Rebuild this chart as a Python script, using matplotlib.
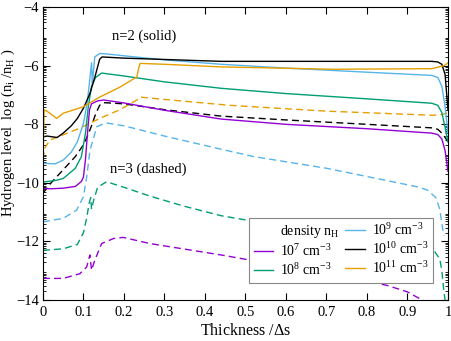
import numpy as np
import matplotlib.pyplot as plt
from matplotlib.lines import Line2D

plt.rcParams['font.family'] = 'Liberation Serif'
plt.rcParams['mathtext.fontset'] = 'custom'
plt.rcParams['mathtext.rm'] = 'Liberation Serif'
plt.rcParams['mathtext.it'] = 'Liberation Serif:italic'
plt.rcParams['font.size'] = 10.5

#-----------------DATA----------------------------------------------#
# n=2 (solid)
x_p7 = [0, 0.02, 0.05, 0.08, 0.095, 0.1, 0.105, 0.11, 0.115, 0.12, 0.135, 0.15, 0.2, 0.3, 0.44, 0.6, 0.8, 0.96, 0.975, 0.985, 0.993, 1.0]
y_p7 = [-10.19, -10.2, -10.18, -10.12, -9.95, -9.8, -9.2, -8.3, -7.5, -7.3, -7.2, -7.17, -7.27, -7.52, -7.82, -8.0, -8.15, -8.3, -8.35, -8.5, -8.9, -9.6]

x_p8 = [0, 0.03, 0.05, 0.08, 0.095, 0.105, 0.112, 0.12, 0.13, 0.145, 0.2, 0.3, 0.44, 0.6, 0.8, 0.96, 0.975, 0.985, 0.993, 1.0]
y_p8 = [-9.97, -9.92, -9.85, -9.5, -9.1, -8.3, -7.4, -6.7, -6.4, -6.25, -6.35, -6.55, -6.77, -6.95, -7.13, -7.28, -7.35, -7.6, -8.1, -8.6]

x_p9 = [0, 0.03, 0.05, 0.07, 0.085, 0.1, 0.11, 0.117, 0.12, 0.122, 0.124, 0.128, 0.14, 0.16, 0.2, 0.3, 0.44, 0.6, 0.8, 0.96, 0.975, 0.985, 0.993, 1.0]
y_p9 = [-9.33, -9.35, -9.22, -8.95, -8.6, -7.97, -7.2, -6.3, -5.9, -6.6, -6.3, -5.7, -5.58, -5.6, -5.66, -5.8, -5.95, -6.08, -6.22, -6.33, -6.4, -6.7, -7.4, -8.3]

x_p10 = [0, 0.01, 0.02, 0.035, 0.05, 0.07, 0.085, 0.1, 0.116, 0.128, 0.14, 0.146, 0.2, 0.44, 0.7, 0.96, 0.975, 0.985, 0.993, 1.0]
y_p10 = [-8.43, -8.4, -8.42, -8.45, -8.3, -8.05, -7.8, -7.45, -6.95, -6.4, -5.78, -5.7, -5.74, -5.85, -5.85, -5.85, -5.87, -5.95, -6.3, -7.5]

x_p11 = [0, 0.003, 0.015, 0.034, 0.05, 0.1, 0.14, 0.19, 0.232, 0.236, 0.24, 0.3, 0.44, 0.72, 0.96, 0.99, 1.0]
y_p11 = [-9.4, -7.5, -7.6, -7.8, -7.62, -7.4, -7.07, -6.73, -6.38, -6.1, -5.92, -5.95, -6.04, -6.12, -6.1, -6.0, -5.9]

# n=3 (dashed)
x_d7 = [0, 0.05, 0.091, 0.108, 0.116, 0.12, 0.128, 0.145, 0.174, 0.198, 0.264, 0.44, 0.6, 0.75, 0.85, 0.9, 0.93, 0.95]
y_d7 = [-13.26, -13.26, -13.1, -12.87, -12.46, -12.98, -12.64, -12.07, -11.9, -11.86, -12.07, -12.46, -12.85, -13.2, -13.5, -13.72, -13.95, -14.2]

x_d8 = [0, 0.05, 0.085, 0.1, 0.108, 0.114, 0.118, 0.12, 0.125, 0.135, 0.157, 0.2, 0.264, 0.35, 0.44, 0.6, 0.8, 0.94, 0.965, 0.98, 0.985, 0.99, 0.995]
y_d8 = [-12.3, -12.25, -12.1, -11.7, -11.2, -10.7, -10.5, -10.9, -10.6, -10.15, -9.96, -10.15, -10.45, -10.8, -11.12, -11.5, -11.85, -12.1, -12.3, -12.6, -13.0, -13.7, -14.2]

x_d9 = [0, 0.05, 0.083, 0.1, 0.108, 0.116, 0.133, 0.155, 0.2, 0.3, 0.44, 0.52, 0.7, 0.86, 0.93, 0.95, 0.97, 0.98, 0.985, 0.99]
y_d9 = [-11.33, -11.21, -10.93, -10.47, -9.8, -8.9, -8.08, -7.95, -8.05, -8.4, -8.85, -9.1, -9.5, -9.95, -10.15, -10.25, -10.5, -10.9, -11.4, -11.8]

x_d10 = [0, 0.02, 0.05, 0.08, 0.1, 0.11, 0.12, 0.13, 0.14, 0.15, 0.2, 0.3, 0.44, 0.6, 0.8, 0.96, 0.975, 0.985, 0.993, 1.0]
y_d10 = [-10.35, -10.0, -9.55, -9.1, -8.7, -8.4, -8.05, -7.65, -7.35, -7.26, -7.3, -7.5, -7.72, -7.85, -8.0, -8.12, -8.17, -8.3, -8.45, -8.6]

x_d11 = [0, 0.005, 0.017, 0.037, 0.091, 0.14, 0.19, 0.232, 0.24, 0.3, 0.46, 0.7, 0.96, 0.985, 1.0]
y_d11 = [-9.2, -8.8, -8.54, -8.43, -8.13, -7.8, -7.5, -7.17, -7.07, -7.15, -7.35, -7.55, -7.69, -7.67, -7.6]

labels = ['10$^{7}$ cm$^{-3}$', '10$^{8}$ cm$^{-3}$', '10$^{9}$ cm$^{-3}$',
          '10$^{10}$ cm$^{-3}$', '10$^{11}$ cm$^{-3}$']
colors = ['#9400d3', '#009e73', '#56b4e9', '#000000', '#e69f00']

solid = [(x_p7, y_p7), (x_p8, y_p8), (x_p9, y_p9), (x_p10, y_p10), (x_p11, y_p11)]
dashed = [(x_d7, y_d7), (x_d8, y_d8), (x_d9, y_d9), (x_d10, y_d10), (x_d11, y_d11)]

#-----------------PLOT----------------------------------------------#
fig = plt.figure(figsize=(4.52, 3.41), dpi=100)
ax = fig.add_axes([0.095, 0.12, 0.896, 0.859])

for (x, y), c in zip(dashed, colors):
    ax.plot(x, y, color=c, lw=1.0, ls=(0, (5, 3)))
for (x, y), c in zip(solid, colors):
    ax.plot(x, y, color=c, lw=1.0)

ax.set_xlim(0, 1)
ax.set_ylim(-14, -4)
ax.set_xticks(np.arange(0, 1.01, 0.1))
ax.set_xticklabels(['0', '0.1', '0.2', '0.3', '0.4', '0.5', '0.6', '0.7', '0.8', '0.9', '1'])
ax.set_yticks([-14, -12, -10, -8, -6, -4])
# log-style minor ticks (y is a log10 quantity)
minors = [n + np.log10(k) for n in range(-14, -4) for k in range(2, 10)]
ax.set_yticks(minors, minor=True)
ax.tick_params(which='both', direction='in', top=True, right=True, labelsize=10.5)
ax.tick_params(which='major', length=5, pad=4)
ax.tick_params(axis='y', which='major', pad=3)
ax.tick_params(which='minor', length=2.5)

ax.set_xlabel('Thickness /$\\Delta$s', fontsize=11.5, labelpad=3)
ax.set_ylabel('Hydrogen level  log (n$_{\\rm i}$ /n$_{\\rm H}$ )', fontsize=10.5)
ax.yaxis.set_label_coords(-0.065, 0.57)

ax.text(0.25, -5.0, 'n=2 (solid)', ha='center', va='center')
ax.text(0.26, -9.55, 'n=3 (dashed)', ha='center', va='center')

handles = [Line2D([], [], color='none')]
handles += [Line2D([], [], color=c, lw=1.0) for c in colors]
leg = ax.legend(handles, ['density n$_{\\rm H}$'] + labels, ncol=2,
                loc='lower right', bbox_to_anchor=(0.963, 0.058),
                fancybox=False, framealpha=1, edgecolor='#888888',
                handlelength=1.4, handletextpad=0.5, columnspacing=0.4,
                labelspacing=0.22, borderpad=0.35, borderaxespad=0, fontsize=10)
leg.get_frame().set_linewidth(0.8)

fig.savefig('out.png', dpi=100)
